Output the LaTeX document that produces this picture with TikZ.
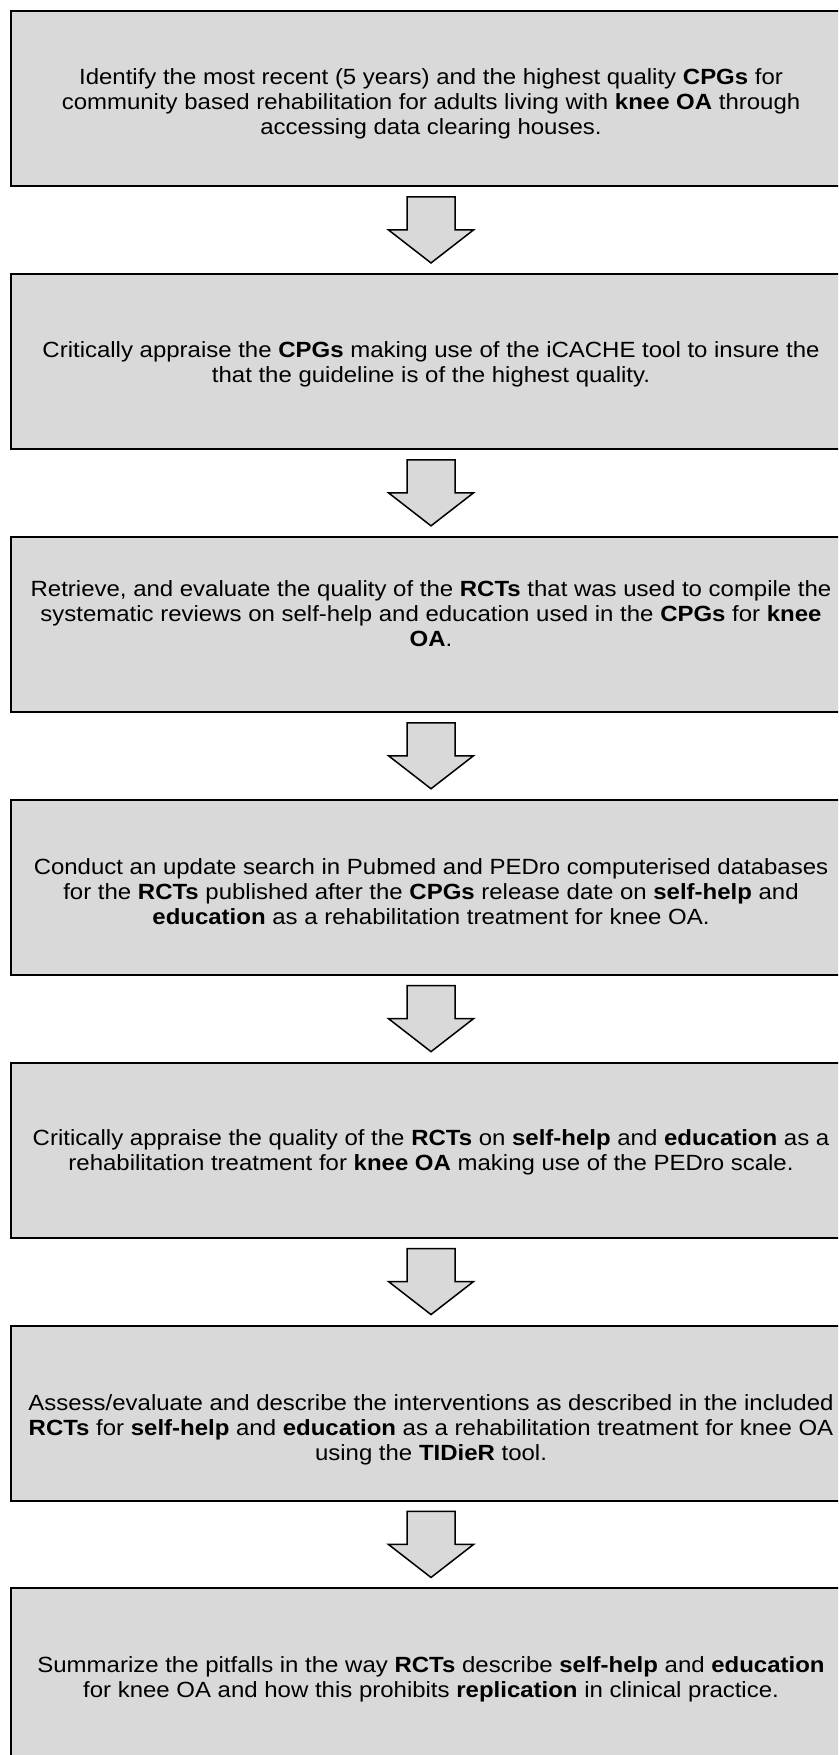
\documentclass[tikz,border=0pt]{standalone}
\usepackage{fontspec}
\setmainfont{Liberation Sans}[FakeStretch=1.09]
\usetikzlibrary{calc}
\definecolor{boxgray}{RGB}{217,217,217}
\tikzset{
  stepbox/.style={draw=black, line width=2pt, fill=boxgray, minimum width=840pt, minimum height=175pt, inner sep=0pt, outer sep=0pt},
  steptext/.style={align=center, inner sep=0pt, font=\fontsize{22pt}{25pt}\selectfont},
  blockarrow/.style={draw=black, line width=1.5pt, fill=boxgray, line join=miter}
}
\newcommand{\blockarr}[3]{%
  \path ($(#1.south)!0.5!(#2.north)$) coordinate (#3);
  \draw[blockarrow] ($(#3)+(-24,-33)$) -- ($(#3)+(24,-33)$) -- ($(#3)+(24,0)$) -- ($(#3)+(42.5,0)$)
    -- ($(#3)+(0,33)$) -- ($(#3)+(-42.5,0)$) -- ($(#3)+(-24,0)$) -- cycle;
}
\begin{document}
\begin{tikzpicture}[x=1pt,y=-1pt]
\clip (0,0) rectangle (838,1755);
\fill[white] (0,0) rectangle (838,1755);
\foreach \k in {1,...,7} {
  \node[stepbox] (b\k) at (431, {98.5+262.9*(\k-1)}) {};
}
\node[steptext] (t1) at ($(b1.center)+(0,5)$) {Identify the most recent (5 years) and the highest quality \textbf{CPGs} for\\community based rehabilitation for adults living with \textbf{knee OA} through\\accessing data clearing houses.};
\node[steptext] (t2) at ($(b2.center)+(0,3)$) {Critically appraise the \textbf{CPGs} making use of the iCACHE tool to insure the\\that the guideline is of the highest quality.};
\node[steptext] (t3) at ($(b3.center)+(0,-11)$) {Retrieve, and evaluate the quality of the \textbf{RCTs} that was used to compile the\\systematic reviews on self-help and education used in the \textbf{CPGs} for \textbf{knee}\\\textbf{OA}.};
\node[steptext] (t4) at ($(b4.center)+(0,4)$) {Conduct an update search in Pubmed and PEDro computerised databases\\for the \textbf{RCTs} published after the \textbf{CPGs} release date on \textbf{self-help} and\\\textbf{education} as a rehabilitation treatment for knee OA.};
\node[steptext] (t5) at ($(b5.center)+(0,2)$) {Critically appraise the quality of the \textbf{RCTs} on \textbf{self-help} and \textbf{education} as a\\rehabilitation treatment for \textbf{knee OA} making use of the PEDro scale.};
\node[steptext] (t6) at ($(b6.center)+(0,17)$) {Assess/evaluate and describe the interventions as described in the included\\\textbf{RCTs} for \textbf{self-help} and \textbf{education} as a rehabilitation treatment for knee OA\\using the \textbf{TIDieR} tool.};
\node[steptext] (t7) at ($(b7.center)+(0,3)$) {Summarize the pitfalls in the way \textbf{RCTs} describe \textbf{self-help} and \textbf{education}\\for knee OA and how this prohibits \textbf{replication} in clinical practice.};
\blockarr{b1}{b2}{m1}
\blockarr{b2}{b3}{m2}
\blockarr{b3}{b4}{m3}
\blockarr{b4}{b5}{m4}
\blockarr{b5}{b6}{m5}
\blockarr{b6}{b7}{m6}
\end{tikzpicture}
\end{document}
